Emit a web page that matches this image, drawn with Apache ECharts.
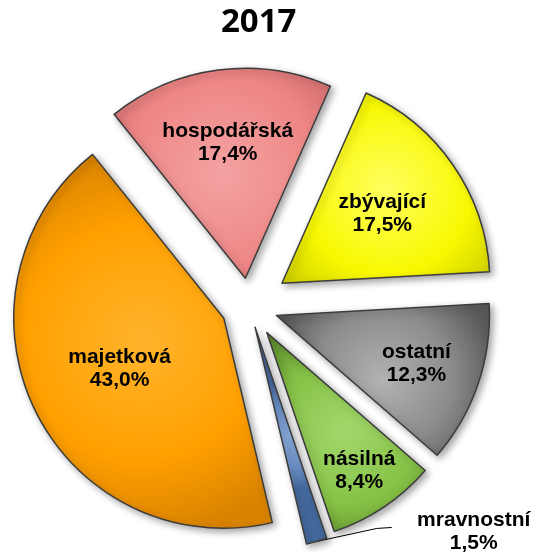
<!DOCTYPE html>
<html>
<head>
<meta charset="utf-8">
<title>2017</title>
<script src="https://cdn.jsdelivr.net/npm/echarts@6.0.0/dist/echarts.min.js"></script>
<style>
html,body{margin:0;padding:0;background:#fff;}
#chart{width:536px;height:552px;}
</style>
</head>
<body>
<div id="chart"></div>
<script>
// data
var names = ['hospodářská', 'zbývající', 'ostatní', 'násilná', 'mravnostní', 'majetková'];
var values = [17.4, 17.5, 12.3, 8.4, 1.5, 43.0];

// colours: light, base, dark
var colors = [
    ['#F4A2A2', '#EE8686', '#C86666'],
    ['#FFFF60', '#F8F800', '#CACA00'],
    ['#B2B2B2', '#8C8C8C', '#5A5A5A'],
    ['#A2D86C', '#86C246', '#5C8C2C'],
    ['#88AADA', '#6A8EC4', '#44689C'],
    ['#FFB42C', '#FFA000', '#D88200']
];

// layout (px / degrees clockwise from 12 o'clock)
var CX = 249, CY = 306, START = -38.7;
var explode = [28, 40, 29, 32, 22, 28];
var radius = [210, 208, 213, 210, 223, 210];
var labelDist = [137, 122, 148, 166, 0, 116];

var total = values.reduce(function (a, b) { return a + b; }, 0);
var acc = 0;
var mids = values.map(function (v) {
    var m = START + 360 * (acc + v / 2) / total;
    acc += v;
    return m * Math.PI / 180;
});

function grad(c) {
    return {
        type: 'radial', x: 0.5, y: 0.5, r: 0.75,
        colorStops: [
            {offset: 0, color: c[0]},
            {offset: 0.6, color: c[1]},
            {offset: 1, color: c[2]}
        ]
    };
}

function fmt(p) {
    return p.name + '\n' + p.value.toFixed(1).replace('.', ',') + '%';
}

var series = names.map(function (n, i) {
    var sx = Math.sin(mids[i]), sy = -Math.cos(mids[i]);
    var cx = CX + explode[i] * sx, cy = CY + explode[i] * sy;
    var outside = labelDist[i] === 0;
    return {
        type: 'pie',
        center: [cx, cy],
        radius: radius[i],
        startAngle: 90 - START,
        clockwise: true,
        avoidLabelOverlap: false,
        animation: false,
        silent: true,
        labelLayout: function () {
            if (outside) {
                var p0 = [cx + radius[i] * sx, cy + radius[i] * sy];
                var p1 = [p0[0] + 60, p0[1] - 13];
                var p2 = [p1[0] + 15, p1[1] - 1];
                return {
                    x: p2[0] + 82, y: p2[1] + 4,
                    align: 'center', verticalAlign: 'middle',
                    labelLinePoints: [p0, p1, p2]
                };
            }
            return {
                x: cx + labelDist[i] * sx,
                y: cy + labelDist[i] * sy,
                align: 'center', verticalAlign: 'middle'
            };
        },
        data: values.map(function (v, j) {
            if (j !== i) {
                return {
                    value: v, name: names[j],
                    itemStyle: {color: 'rgba(0,0,0,0)', borderWidth: 0},
                    label: {show: false},
                    labelLine: {show: false}
                };
            }
            return {
                value: v, name: names[j],
                itemStyle: {
                    color: grad(colors[j]),
                    borderColor: '#3C3C3C',
                    borderWidth: 1.5,
                    shadowBlur: 7,
                    shadowOffsetX: 3,
                    shadowOffsetY: 3,
                    shadowColor: 'rgba(0,0,0,0.35)'
                },
                label: {
                    show: true,
                    position: outside ? 'outside' : 'inside',
                    formatter: fmt,
                    color: '#000',
                    fontFamily: 'Liberation Sans',
                    fontWeight: 'bold',
                    fontSize: 21,
                    lineHeight: 23
                },
                labelLine: {
                    show: outside,
                    lineStyle: {color: '#000', width: 1}
                }
            };
        })
    };
});

var chart = echarts.init(document.getElementById('chart'));
chart.setOption({
    backgroundColor: '#fff',
    title: {
        text: '2017',
        left: 216,
        top: 1,
        textStyle: {
            fontFamily: 'Open Sans',
            fontWeight: 'bold',
            fontSize: 33,
            color: '#000'
        }
    },
    series: series
});
</script>
</body>
</html>
